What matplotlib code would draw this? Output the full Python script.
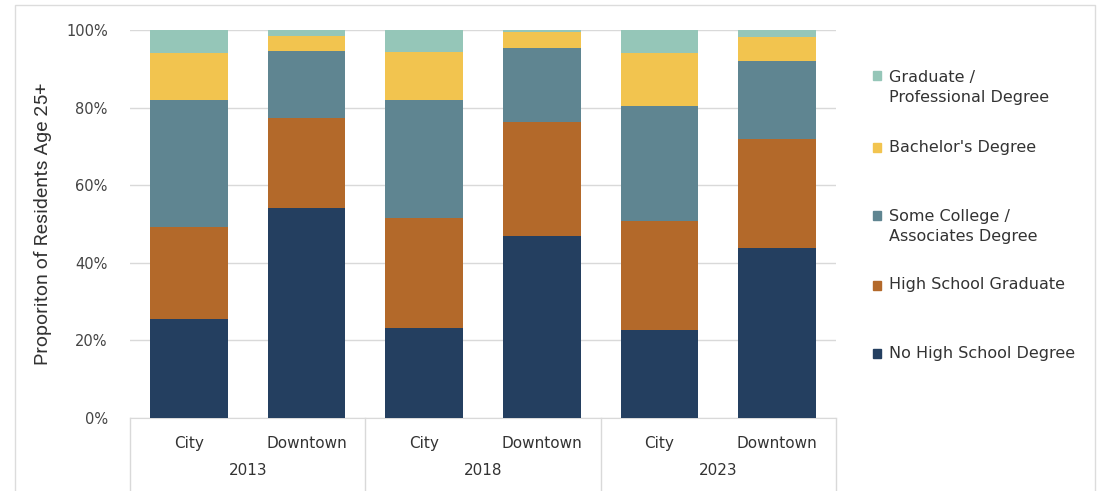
import numpy as np
import matplotlib.pyplot as plt
from matplotlib.patches import Rectangle

plt.rcParams['font.family'] = ['DejaVu Sans']

# data (percent of residents age 25+)
years = ['2013', '2018', '2023']
places = ['City', 'Downtown']
levels = ['No High School Degree', 'High School Graduate',
          'Some College /\nAssociates Degree', "Bachelor's Degree",
          'Graduate /\nProfessional Degree']
no_hs = [25.5, 54.0, 23.2, 47.0, 22.7, 43.8]
hs_grad = [23.7, 23.3, 28.3, 29.3, 28.1, 28.1]
some_college = [32.8, 17.4, 30.5, 19.1, 29.6, 20.1]
bachelors = [12.0, 3.7, 12.3, 4.1, 13.6, 6.2]
graduate = [6.0, 1.6, 5.7, 0.5, 6.0, 1.8]

colors = ['#243f60', '#b3692a', '#5f8591', '#f2c44f', '#95c6b8']
series = [no_hs, hs_grad, some_college, bachelors, graduate]

fig = plt.figure(figsize=(11.02, 4.91), dpi=100)
ax = fig.add_axes([0.118, 0.1487, 0.6406, 0.7902])

x = np.arange(len(no_hs))
bottom = np.zeros(len(no_hs))
for vals, c in zip(series, colors):
    ax.bar(x, vals, width=0.66, bottom=bottom, color=c, zorder=3)
    bottom += np.array(vals)

ax.set_xlim(-0.5, len(no_hs) - 0.5)
ax.set_ylim(0, 100)
ax.set_yticks(np.arange(0, 101, 20))
ax.set_yticklabels([f'{v}%' for v in range(0, 101, 20)], fontsize=10.5, color='#444444')
ax.tick_params(axis='y', length=0, pad=16)
ax.grid(axis='y', color='#d9d9d9', lw=1, zorder=0)
for s in ['top', 'right', 'left']:
    ax.spines[s].set_visible(False)
ax.spines['bottom'].set_color('#d9d9d9')
ax.set_xticks([])
ax.set_ylabel('Proporiton of Residents Age 25+', fontsize=14, color='#333333',
              labelpad=10, family=['Roboto', 'DejaVu Sans'])

# two-level category axis
tr = ax.get_xaxis_transform()
for i in range(len(no_hs)):
    ax.text(x[i], -0.066, places[i % 2], transform=tr, ha='center', va='center',
            fontsize=11, color='#333333')
for g, yr in enumerate(years):
    ax.text(2 * g + 0.5, -0.136, yr, transform=tr, ha='center', va='center',
            fontsize=11, color='#333333')
for xs in np.arange(-0.5, len(no_hs), 2):
    ax.plot([xs, xs], [0, -0.2], transform=tr, color='#d9d9d9', lw=1, clip_on=False)

# legend (top to bottom, reversed stack order)
patch_y = [0.847, 0.70, 0.562, 0.42, 0.281]
text_y = [0.822, 0.70, 0.539, 0.42, 0.281]
for lab, c, py, ty in zip(levels[::-1], colors[::-1], patch_y, text_y):
    fig.patches.append(Rectangle((0.792, py - 0.01), 0.0075, 0.018,
                                 transform=fig.transFigure, color=c))
    fig.text(0.807, ty, lab, ha='left', va='center',
             fontsize=11.5, color='#333333', linespacing=1.4)

# outer frame
fig.patches.append(Rectangle((15 / 1102, -0.05), 1080 / 1102, 1 - 5 / 491 + 0.05,
                             transform=fig.transFigure, fill=False,
                             edgecolor='#dcdcdc', lw=1))

fig.savefig('out.png', dpi=100)
